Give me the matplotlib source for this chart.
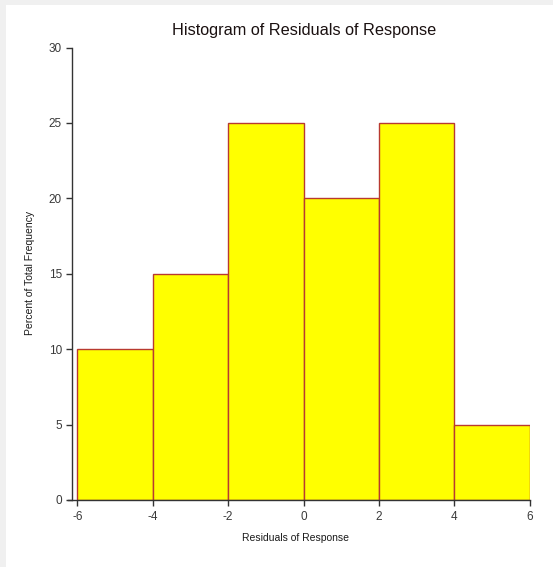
import matplotlib.pyplot as plt
from matplotlib.patches import Rectangle

# bins of the residuals and percent of total frequency
bin_edges = [-6, -4, -2, 0, 2, 4, 6]
percent = [10, 15, 25, 20, 25, 5]
x_ticks = [-6, -4, -2, 0, 2, 4, 6]
y_ticks = [0, 5, 10, 15, 20, 25, 30]

plt.rcParams['font.family'] = ['Liberation Sans', 'DejaVu Sans']

W, H = 553, 567
fig = plt.figure(figsize=(W / 100, H / 100), dpi=100, facecolor='white')
# thin gray margin on left and top
fig.add_artist(Rectangle((0, 0), 6 / W, 1, transform=fig.transFigure,
                         facecolor='#f0f0f0', edgecolor='none'))
fig.add_artist(Rectangle((0, 1 - 5 / H), 1, 5 / H, transform=fig.transFigure,
                         facecolor='#f0f0f0', edgecolor='none'))

ax = fig.add_axes([68 / W, (H - 500) / H, (529.5 - 68) / W, (500 - 47.5) / H])
ax.set_facecolor('none')

lefts = bin_edges[:-1]
widths = [b - a for a, b in zip(bin_edges[:-1], bin_edges[1:])]
ax.bar(lefts, percent, width=widths, align='edge', color='#ffff00',
       edgecolor='#b83a30', linewidth=1.0)

scale = 452 / 12.0  # px per unit
x0 = -6 - 9.5 / scale
ax.set_xlim(x0, 6.0)
ax.set_ylim(0, 30)
ax.spines['top'].set_visible(False)
ax.spines['right'].set_visible(False)
ax.spines['left'].set_position(('data', -6 - 5 / scale))
ax.spines['left'].set_bounds(0, 30)
ax.spines['bottom'].set_bounds(x0, 6)
for s in ('left', 'bottom'):
    ax.spines[s].set_color('#333333')
    ax.spines[s].set_linewidth(1.0)

ax.set_xticks(x_ticks)
ax.set_xticklabels([str(v) for v in x_ticks])
ax.set_yticks(y_ticks)
ax.tick_params(axis='both', direction='out', length=4, width=1, color='#333333',
               labelsize=8.5, labelcolor='#3a3a3a', pad=3.6)

fig.text(304 / W, 1 - 31 / H, 'Histogram of Residuals of Response', ha='center',
         va='center', fontsize=11.7, color='#1a1010')
fig.text(295 / W, 1 - 538 / H, 'Residuals of Response', ha='center',
         va='center', fontsize=7.5, color='#1a1a1a')
fig.text(30 / W, 1 - 273 / H, 'Percent of Total Frequency', ha='center',
         va='center', rotation=90, fontsize=7.5, color='#1a1a1a')

fig.savefig('out.png', dpi=100)
